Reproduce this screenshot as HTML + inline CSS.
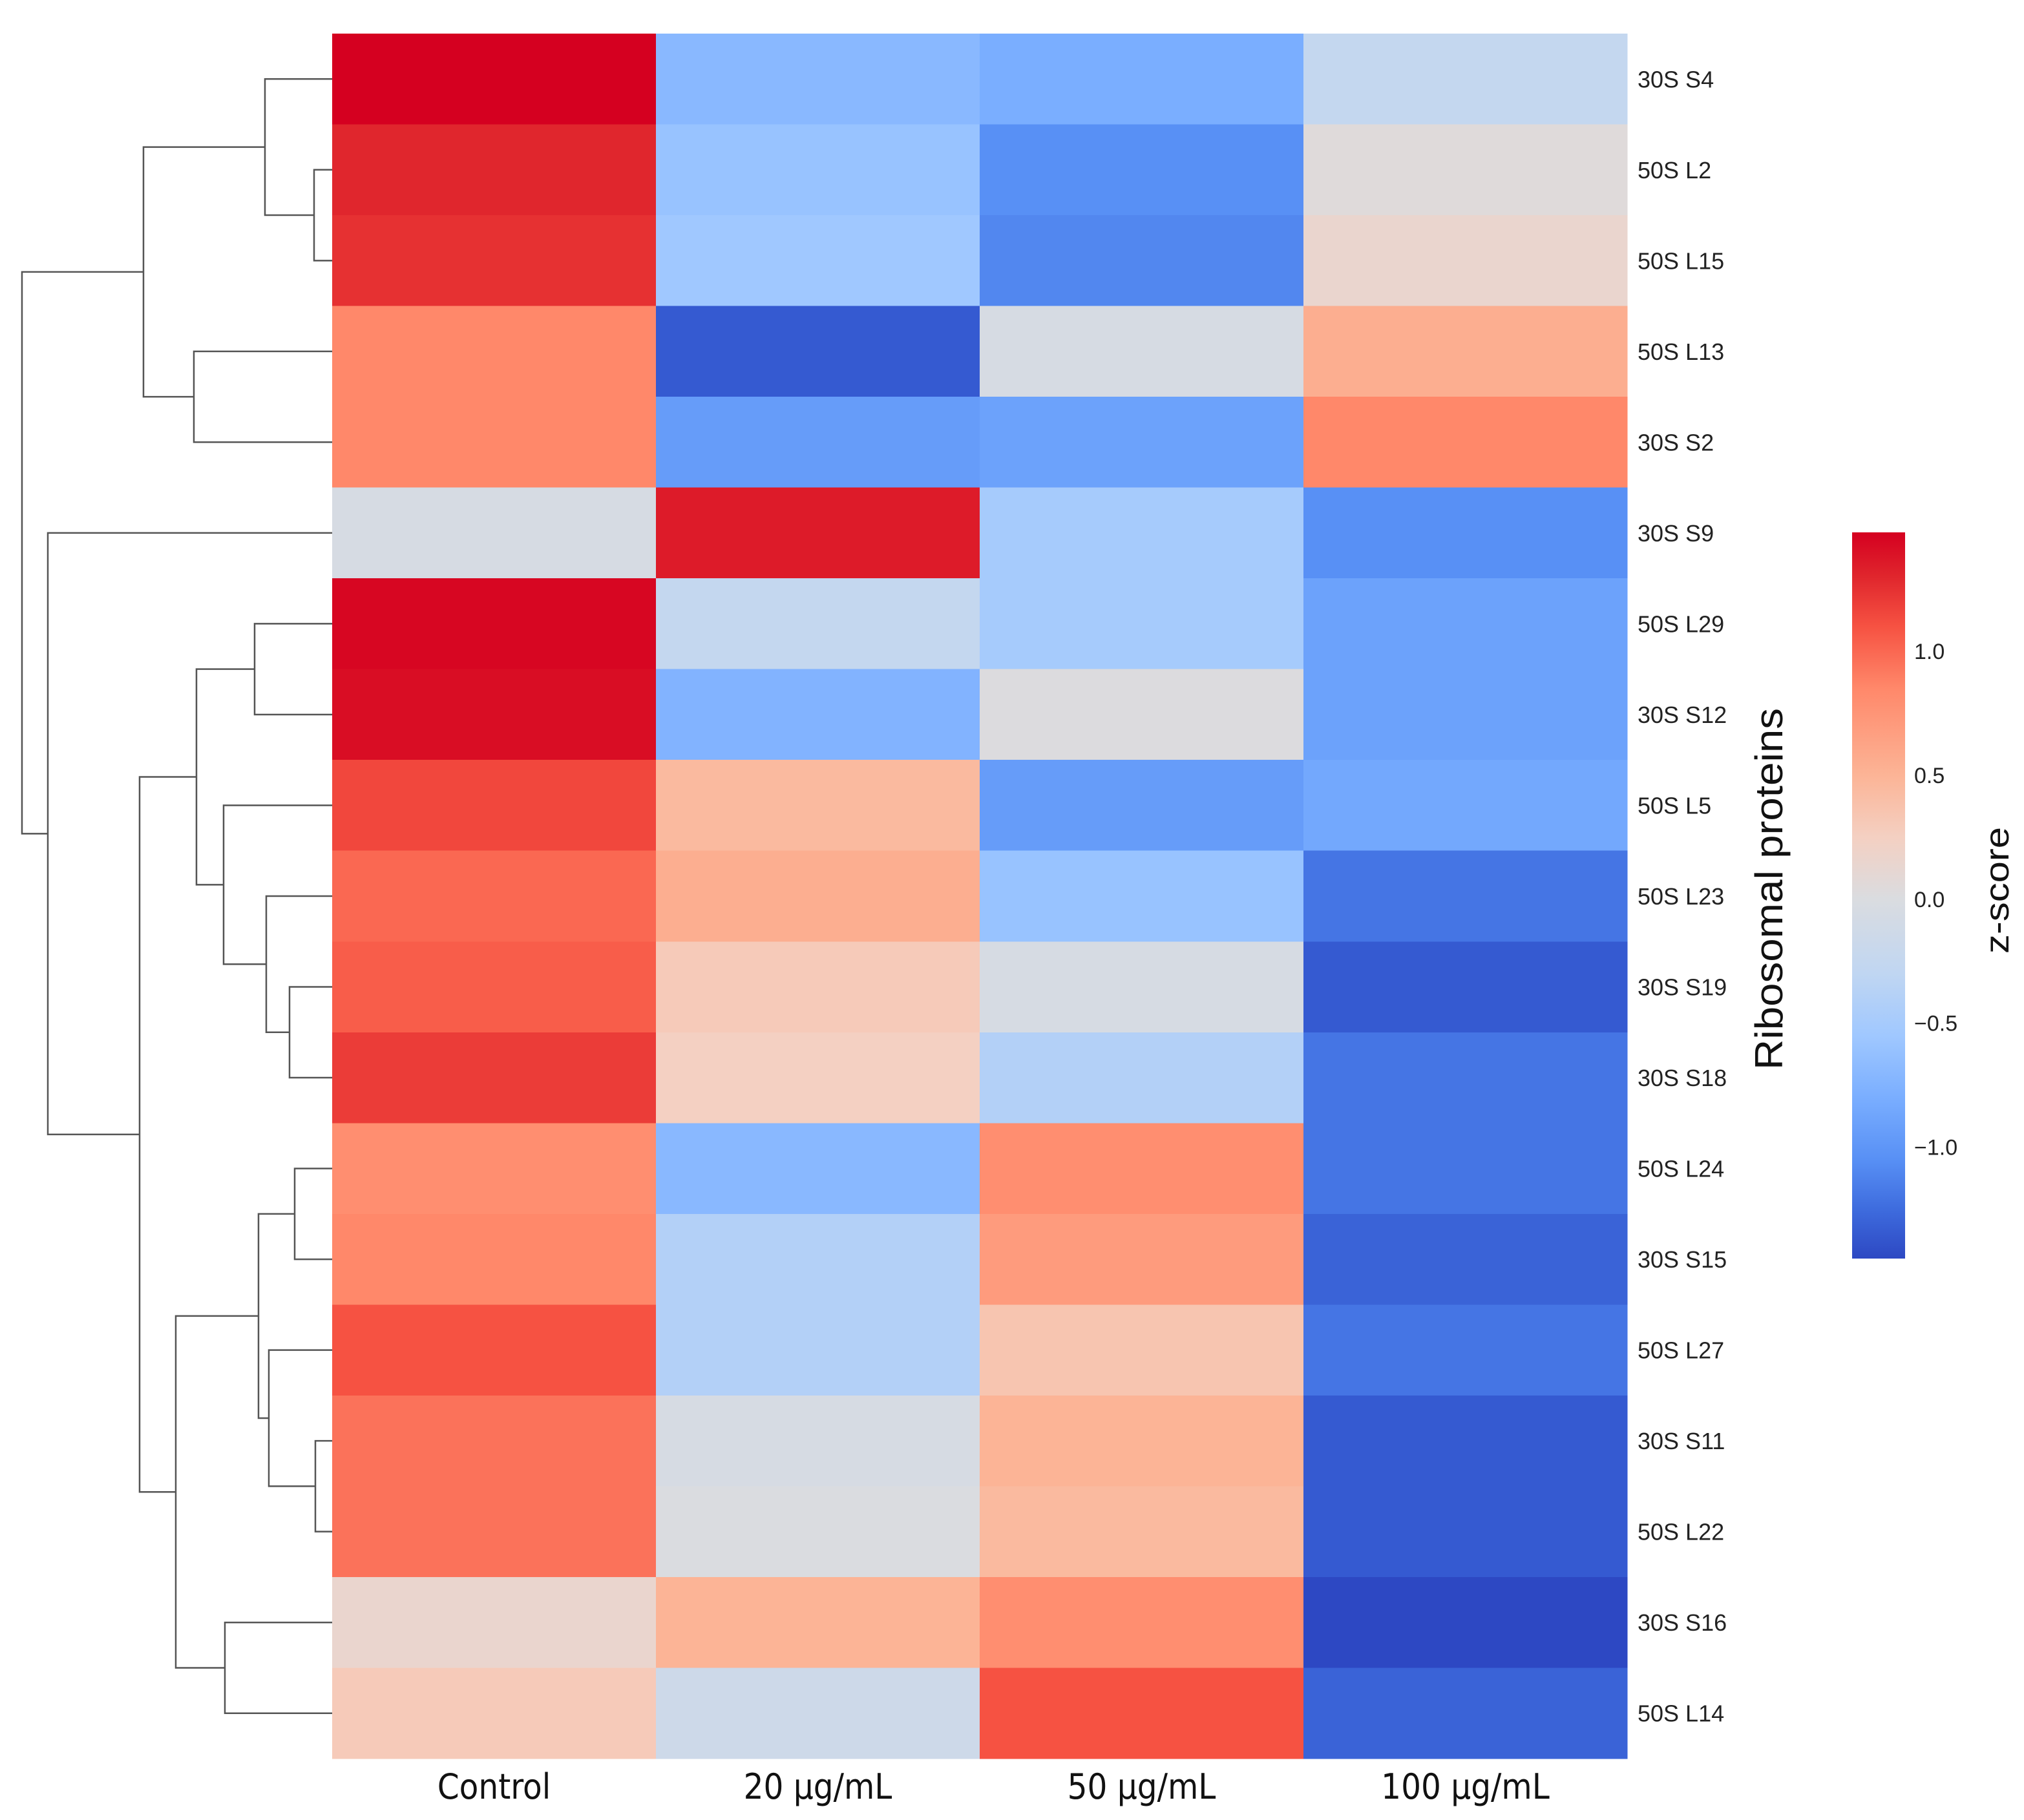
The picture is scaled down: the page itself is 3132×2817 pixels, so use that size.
<!DOCTYPE html>
<html><head><meta charset="utf-8"><style>
html,body{margin:0;padding:0;background:#fff;}
svg{display:block;}
</style></head><body>
<svg id="chart" xmlns="http://www.w3.org/2000/svg" width="3132" height="2817" viewBox="0 0 3132 2817">
<rect x="0" y="0" width="3132" height="2817" fill="#fff"/>
<g id="cells" shape-rendering="crispEdges"></g>
<g id="dendro" fill="none" stroke="#555" stroke-width="2.5"></g>
<g id="rowlabels"></g>
<g id="collabels"></g>
<text x="0" y="0" transform="translate(2758,1376) rotate(-90)" text-anchor="middle" font-family="'Liberation Sans Narrow','Liberation Sans',sans-serif" font-size="60" textLength="560" lengthAdjust="spacingAndGlyphs" fill="#111">Ribosomal proteins</text>
<defs><linearGradient id="cbgrad" x1="0" y1="1" x2="0" y2="0"></linearGradient></defs>
<rect x="2866" y="824" width="82" height="1124" fill="url(#cbgrad)"/>
<g id="cbticks"></g>
<text transform="translate(3108,1378) rotate(-90)" text-anchor="middle" font-family="'Liberation Sans Narrow','Liberation Sans',sans-serif" font-size="52" textLength="196" lengthAdjust="spacingAndGlyphs" fill="#111">z-score</text>
</svg>
<script>
const rowNames = ["30S S4","50S L2","50S L15","50S L13","30S S2","30S S9","50S L29","30S S12","50S L5","50S L23","30S S19","30S S18","50S L24","30S S15","50S L27","30S S11","50S L22","30S S16","50S L14"];
const colNames = ["Control","20 \u00b5g/mL","50 \u00b5g/mL","100 \u00b5g/mL"];
const valControl = [1.48,1.3,1.25,0.85,0.85,-0.05,1.45,1.42,1.15,1.0,1.05,1.2,0.8,0.85,1.1,0.95,0.95,0.15,0.3];
const val20 = [-0.7,-0.6,-0.55,-1.35,-0.95,1.35,-0.25,-0.75,0.45,0.55,0.3,0.25,-0.7,-0.4,-0.4,-0.05,0.0,0.5,-0.15];
const val50 = [-0.8,-1.05,-1.1,-0.05,-0.9,-0.5,-0.5,0.02,-0.95,-0.6,-0.05,-0.4,0.8,0.7,0.35,0.5,0.45,0.8,1.1];
const val100 = [-0.25,0.05,0.15,0.55,0.85,-1.05,-0.9,-0.9,-0.85,-1.2,-1.35,-1.2,-1.2,-1.3,-1.2,-1.35,-1.35,-1.45,-1.3];
const cbTicks = [1.0,0.5,0.0,-0.5,-1.0];
const cbTickLabels = ["1.0","0.5","0.0","\u22120.5","\u22121.0"];
const vmin = -1.45, vmax = 1.48;
// dendrogram merges: [left node, right node, join x in px]; leaves 0-18, new nodes 19+
const merges = [[1,2,486],[0,19,410],[3,4,300],[20,21,222],[6,7,394],[10,11,448],[9,24,412],[8,25,346],[23,26,304],[12,13,456],[15,16,488],[14,29,416],[28,30,400],[17,18,348],[31,32,272],[27,33,216],[5,34,74],[22,35,34]];

const NS="http://www.w3.org/2000/svg";
const X0=514, colW=501, Y0=52, Y1=2722, rowH=(Y1-Y0)/rowNames.length;
const xCol=i=>X0+i*colW;
const yRow=i=>Y0+i*rowH;
const stopsV=[-1.45,-1.25,-1.05,-0.8,-0.55,-0.3,0,0.25,0.5,0.85,1.1,1.3,1.48];
const stopsC=[[45,72,195],[62,108,222],[88,144,245],[122,174,255],[160,200,255],[192,214,242],[218,220,224],[244,208,194],[252,180,150],[255,136,106],[246,82,66],[224,38,45],[213,0,32]];
function cmap(v){
  if(v<=stopsV[0])return stopsC[0];
  for(let i=1;i<stopsV.length;i++){if(v<=stopsV[i]){const t=(v-stopsV[i-1])/(stopsV[i]-stopsV[i-1]);return stopsC[i].map((c,k)=>Math.round(stopsC[i-1][k]+(c-stopsC[i-1][k])*t));}}
  return stopsC[stopsC.length-1];
}
const series=[valControl,val20,val50,val100];
const gc=document.getElementById('cells');
series.forEach((arr,c)=>arr.forEach((v,r)=>{
  const e=document.createElementNS(NS,'rect');
  
  
  e.setAttribute('x',xCol(c));e.setAttribute('y',yRow(r));
  e.setAttribute('width',colW+0.5);e.setAttribute('height',rowH+0.5);
  e.setAttribute('fill','rgb('+cmap(v).join(',')+')');
  gc.appendChild(e);
}));
const gl=document.getElementById('rowlabels');
rowNames.forEach((n,r)=>{
  const t=document.createElementNS(NS,'text');
  
  
  t.setAttribute('x',2534);t.setAttribute('y',yRow(r)+rowH/2+13);
  t.setAttribute('font-family',"'Liberation Sans',sans-serif");t.setAttribute('font-size','36');t.setAttribute('fill','#222');
  t.textContent=n;gl.appendChild(t);
});
const gcl=document.getElementById('collabels');
colNames.forEach((n,c)=>{
  const t=document.createElementNS(NS,'text');
  
  
  t.setAttribute('x',xCol(c)+colW/2);t.setAttribute('y',2784);t.setAttribute('text-anchor','middle');
  t.setAttribute('font-family',"'DejaVu Sans Condensed','DejaVu Sans',sans-serif");t.setAttribute('font-size','54');t.setAttribute('fill','#111');
  t.textContent=n;gcl.appendChild(t);
});
// dendrogram
const gd=document.getElementById('dendro');
const nodes=rowNames.map((n,i)=>({y:yRow(i)+rowH/2,x:X0}));
merges.forEach(m=>{
  const a=nodes[m[0]],b=nodes[m[1]],x=m[2];
  const p=document.createElementNS(NS,'path');
  
  
  p.setAttribute('d',`M${a.x},${a.y}H${x}V${b.y}H${b.x}`);
  gd.appendChild(p);
  nodes.push({x:x,y:(a.y+b.y)/2});
});
// colorbar
const gr=document.getElementById('cbgrad');
stopsV.forEach((v,i)=>{const s=document.createElementNS(NS,'stop');s.setAttribute('offset',(v-vmin)/(vmax-vmin));s.setAttribute('stop-color','rgb('+stopsC[i].join(',')+')');gr.appendChild(s);});
const cbY=v=>1948-(v-vmin)/(vmax-vmin)*1124;
const gt=document.getElementById('cbticks');
cbTicks.forEach((v,i)=>{
  const t=document.createElementNS(NS,'text');
  
  
  t.setAttribute('x',2962);t.setAttribute('y',cbY(v)+12);
  t.setAttribute('font-family',"'Liberation Sans',sans-serif");t.setAttribute('font-size','34');t.setAttribute('fill','#222');
  t.textContent=cbTickLabels[i];gt.appendChild(t);
});
</script>
</body></html>
